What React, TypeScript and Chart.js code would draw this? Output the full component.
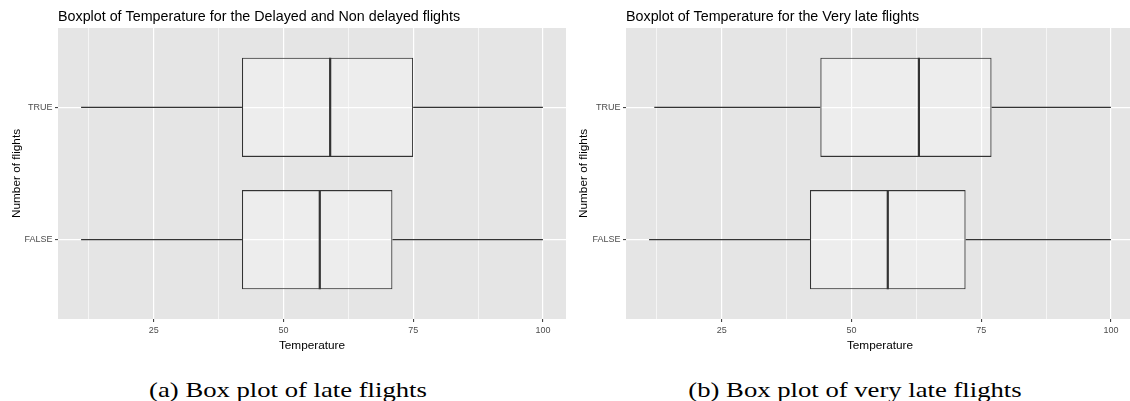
import React, { useEffect, useRef } from "react";
import { Chart, registerables } from "chart.js";

Chart.register(...registerables);

// Group labels and their positions on the vertical axis (bottom to top)
const groupLabels = ["FALSE", "TRUE"];
const groupPositions = [1, 2];

// Temperature five-number summaries, delayed vs. non-delayed flights
const lateMin = [11, 11];
const lateQ1 = [42, 42];
const lateMedian = [57, 59];
const lateQ3 = [71, 75];
const lateMax = [100, 100];

// Temperature five-number summaries, very late flights
const veryLateMin = [11, 12];
const veryLateQ1 = [42, 44];
const veryLateMedian = [57, 63];
const veryLateQ3 = [72, 77];
const veryLateMax = [100, 100];

// Axis ticks: major every 25, minor halfway between
const xMajorStep = 25;
const xMinorStep = 12.5;

type Stats = {
  min: number[];
  q1: number[];
  median: number[];
  q3: number[];
  max: number[];
};

const SANS = "'Liberation Sans', Arial, sans-serif";
const PANEL_BG = "#E5E5E5";
const INK = "#333333";

function BoxPanel(props: {
  title: string;
  stats: Stats;
  width: number;
  height: number;
  axisWidth: number;
}) {
  const ref = useRef<HTMLCanvasElement | null>(null);

  useEffect(() => {
    const canvas = ref.current;
    if (!canvas) return;
    const { stats } = props;

    // ggplot-style 5% expansion of the continuous range
    const lo = Math.min(...stats.min);
    const hi = Math.max(...stats.max);
    const pad = (hi - lo) * 0.05;
    const xMin = lo - pad;
    const xMax = hi + pad;

    const boxes = groupPositions.map((p, i) => ({
      x: [stats.q1[i], stats.q3[i]],
      y: p,
    }));

    const panelBackground = {
      id: "panelBackground",
      beforeDraw(chart: any) {
        const { ctx, chartArea } = chart;
        ctx.save();
        ctx.fillStyle = PANEL_BG;
        ctx.fillRect(
          chartArea.left,
          chartArea.top,
          chartArea.right - chartArea.left,
          chartArea.bottom - chartArea.top
        );
        ctx.restore();
      },
    };

    const whiskersAndMedians = {
      id: "whiskersAndMedians",
      afterDatasetsDraw(chart: any) {
        const { ctx } = chart;
        const xs = chart.scales.x;
        const ys = chart.scales.y;
        ctx.save();
        ctx.strokeStyle = INK;
        groupPositions.forEach((p, i) => {
          const yc = ys.getPixelForValue(p);
          const yTop = ys.getPixelForValue(p + 0.375);
          const yBot = ys.getPixelForValue(p - 0.375);
          ctx.lineWidth = 1.1;
          ctx.beginPath();
          ctx.moveTo(xs.getPixelForValue(stats.min[i]), yc);
          ctx.lineTo(xs.getPixelForValue(stats.q1[i]), yc);
          ctx.moveTo(xs.getPixelForValue(stats.q3[i]), yc);
          ctx.lineTo(xs.getPixelForValue(stats.max[i]), yc);
          ctx.stroke();
          ctx.lineWidth = 2.2;
          const xm = xs.getPixelForValue(stats.median[i]);
          ctx.beginPath();
          ctx.moveTo(xm, yTop);
          ctx.lineTo(xm, yBot);
          ctx.stroke();
        });
        ctx.restore();
      },
    };

    const labels = {
      id: "panelLabels",
      afterDraw(chart: any) {
        const { ctx, chartArea } = chart;
        ctx.save();
        ctx.fillStyle = "#000000";
        ctx.font = `14.3px ${SANS}`;
        ctx.textAlign = "left";
        ctx.textBaseline = "alphabetic";
        ctx.fillText(props.title, chartArea.left, 20.5);

        ctx.font = `11.8px ${SANS}`;
        ctx.textAlign = "center";
        ctx.fillText(
          "Temperature",
          (chartArea.left + chartArea.right) / 2,
          349.4
        );

        ctx.translate(20, (chartArea.top + chartArea.bottom) / 2);
        ctx.rotate(-Math.PI / 2);
        ctx.fillText("Number of flights", 0, 0);
        ctx.restore();
      },
    };

    const isMajor = (v: number) => Math.abs(v / xMajorStep - Math.round(v / xMajorStep)) < 1e-6;

    const chart = new Chart(canvas, {
      type: "bar",
      data: {
        datasets: [
          {
            data: boxes as any,
            backgroundColor: "rgba(255,255,255,0.3)",
            borderColor: INK,
            borderWidth: 1.1,
            borderSkipped: false,
            categoryPercentage: 1,
            barPercentage: 0.75,
          },
        ],
      },
      options: {
        animation: false,
        responsive: false,
        devicePixelRatio: 1,
        indexAxis: "y",
        layout: { padding: { top: 28, right: 0, bottom: 0, left: 0 } },
        plugins: {
          legend: { display: false },
          tooltip: { enabled: false },
          title: { display: false },
        },
        scales: {
          x: {
            type: "linear",
            position: "bottom",
            min: xMin,
            max: xMax,
            offset: false,
            afterFit(scale: any) {
              scale.height = props.height - 319;
            },
            border: { display: false },
            grid: {
              offset: false,
              color: "#FFFFFF",
              lineWidth: (c: any) => (isMajor(c.tick.value) ? 1.2 : 0.6),
              tickColor: (c: any) => (isMajor(c.tick.value) ? INK : "rgba(0,0,0,0)"),
              tickLength: 3,
              tickWidth: 1,
              drawTicks: true,
            },
            ticks: {
              stepSize: xMinorStep,
              includeBounds: false,
              autoSkip: false,
              maxRotation: 0,
              padding: 3.5,
              color: "#4D4D4D",
              font: { family: SANS, size: 9 },
              callback: (v: any) => (isMajor(Number(v)) ? String(v) : ""),
            },
          },
          y: {
            type: "linear",
            position: "left",
            min: 0.4,
            max: 2.6,
            offset: false,
            afterFit(scale: any) {
              scale.width = props.axisWidth;
            },
            border: { display: false },
            grid: {
              offset: false,
              color: "#FFFFFF",
              lineWidth: 1.2,
              tickColor: INK,
              tickLength: 3,
              tickWidth: 1,
            },
            ticks: {
              stepSize: 1,
              includeBounds: false,
              autoSkip: false,
              padding: 2.5,
              color: "#4D4D4D",
              font: { family: SANS, size: 9 },
              callback: (v: any) => {
                const idx = groupPositions.indexOf(Number(v));
                return idx >= 0 ? groupLabels[idx] : "";
              },
            },
          },
        },
      },
      plugins: [panelBackground, whiskersAndMedians, labels],
    });

    return () => chart.destroy();
  }, []);

  return (
    <canvas
      ref={ref}
      width={props.width}
      height={props.height}
      style={{ display: "block", width: props.width, height: props.height }}
    />
  );
}

const captionStyle: React.CSSProperties = {
  position: "absolute",
  top: 380.4,
  fontFamily: "'Liberation Serif', 'Times New Roman', serif",
  fontSize: 21,
  lineHeight: "21px",
  whiteSpace: "nowrap",
  color: "#000",
  transformOrigin: "center",
};

export default function App() {
  return (
    <div
      style={{
        position: "fixed",
        left: 0,
        top: 0,
        width: 1130,
        height: 401,
        overflow: "hidden",
        background: "#FFFFFF",
      }}
    >
      <div style={{ position: "absolute", left: 0, top: 0 }}>
        <BoxPanel
          title="Boxplot of Temperature for the Delayed and Non delayed flights"
          stats={{ min: lateMin, q1: lateQ1, median: lateMedian, q3: lateQ3, max: lateMax }}
          width={566}
          height={360}
          axisWidth={58}
        />
      </div>
      <div style={{ position: "absolute", left: 567, top: 0 }}>
        <BoxPanel
          title="Boxplot of Temperature for the Very late flights"
          stats={{
            min: veryLateMin,
            q1: veryLateQ1,
            median: veryLateMedian,
            q3: veryLateQ3,
            max: veryLateMax,
          }}
          width={567}
          height={360}
          axisWidth={59}
        />
      </div>
      <div
        style={{
          ...captionStyle,
          left: 288,
          transform: "translateX(-50%) scaleX(1.27)",
        }}
      >
        (a) Box plot of late flights
      </div>
      <div
        style={{
          ...captionStyle,
          left: 855,
          transform: "translateX(-50%) scaleX(1.27)",
        }}
      >
        (b) Box plot of very late flights
      </div>
    </div>
  );
}
